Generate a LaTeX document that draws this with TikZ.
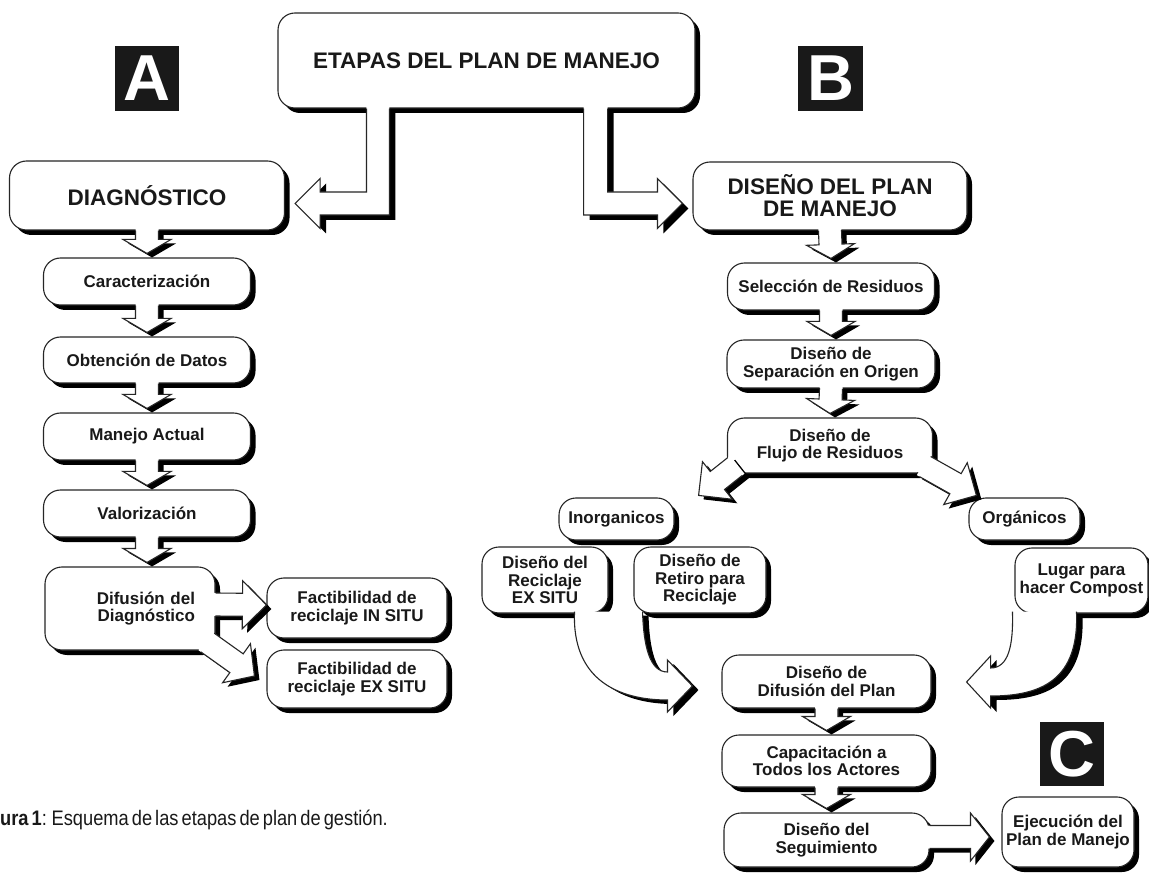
\documentclass[tikz,border=0pt]{standalone}
\usepackage{fontspec}
\setmainfont{Liberation Sans}
\newfontfamily\captfont[FakeStretch=0.87, WordSpace=0.6]{Liberation Sans}
\usetikzlibrary{calc,shadows}

% block arrow: [head length]{from}{tip}
\newcommand{\flowarr}[3][14]{%
  \path let \p1=($#3-#2$) in
    \pgfextra{\pgfmathsetmacro\arrang{atan2(\y1,\x1)}%
      \pgfmathsetmacro\arrlen{veclen(\x1,\y1)}%
      \xdef\arrang{\arrang}\xdef\arrlen{\arrlen}};
  \pgfmathsetmacro\arrbase{\arrlen-#1}%
  \begin{scope}[shift={#2}, shift={(5,4)}, rotate=\arrang]
    \fill[black] (-3,11.5) -- (\arrbase,11.5) -- (\arrbase,24) -- (\arrlen,0)
      -- (\arrbase,-24) -- (\arrbase,-11.5) -- (-3,-11.5) -- cycle;
  \end{scope}
  \begin{scope}[shift={#2}, rotate=\arrang]
    \fill[white] (-3,11.5) -- (\arrbase,11.5) -- (\arrbase,24) -- (\arrlen,0)
      -- (\arrbase,-24) -- (\arrbase,-11.5) -- (-3,-11.5) -- cycle;
    \draw[stageline] (0,11.5) -- (\arrbase,11.5) -- (\arrbase,24) -- (\arrlen,0)
      -- (\arrbase,-24) -- (\arrbase,-11.5) -- (0,-11.5);
  \end{scope}}

% elbow arrows out of the title box
\newcommand{\elbowL}[1]{(\x1,\y1+#1) -- (\x1,\y2+11.5pt) -- (\x2+25pt,\y2+11.5pt)
  -- (\x2+25pt,\y2+25pt) -- (\x2,\y2) -- (\x2+25pt,\y2-25pt) -- (\x2+25pt,\y2-11.5pt)
  -- (\x1+23pt,\y2-11.5pt) -- (\x1+23pt,\y1+#1)}
\newcommand{\elbowR}[1]{(\x1,\y1+#1) -- (\x1,\y2-11.5pt) -- (\x2-25pt,\y2-11.5pt)
  -- (\x2-25pt,\y2-25pt) -- (\x2,\y2) -- (\x2-25pt,\y2+25pt) -- (\x2-25pt,\y2+11.5pt)
  -- (\x1+24pt,\y2+11.5pt) -- (\x1+24pt,\y1+#1)}

% curved arrows into the plan column
\newcommand{\curveL}{(cls) .. controls +(-3,69) and +(-48,0) .. ($(clt)+(-25,14)$)
  -- ++(0,12) -- (clt) -- ++(-25,-26) -- ++(0,12)
  .. controls +(-18,0) and +(1,34) .. ($(cls)+(68,0)$)}
\newcommand{\curveR}{($(crs)+(64,0)$) .. controls +(3,69) and +(50,0) .. ($(crt)+(24,14)$)
  -- ++(0,12) -- (crt) -- ++(24,-26) -- ++(0,12)
  .. controls +(18,0) and +(1,34) .. (crs)}

\begin{document}
\begin{tikzpicture}[x=1pt, y=-1pt,
    stagebox/.style={draw=black!85, line width=1.1pt, fill=white, rounded corners=17pt,
      align=center, inner sep=3pt, text=black!90,
      drop shadow={shadow xshift=5pt, shadow yshift=-5pt, opacity=1, fill=black}},
    smalltxt/.style={font=\bfseries\fontsize{17}{17.5}\selectfont},
    bigtxt/.style={font=\bfseries\fontsize{22.5}{22}\selectfont},
    letterbox/.style={fill=black!90, text=white, inner sep=0pt, minimum width=64pt,
      minimum height=65pt, font=\bfseries\fontsize{65}{65}\selectfont},
    stageline/.style={draw=black!85, line width=1.1pt}]

  \fill[white] (0,0) rectangle (1149,874);
  \useasboundingbox (0,0) rectangle (1149,874);

  % title and letters
  \node[stagebox, bigtxt, minimum width=417pt, minimum height=95pt] (etapas) at (486.5,60.5) {ETAPAS DEL PLAN DE MANEJO};
  \node[letterbox] (letA) at (147,78.5) {A};
  \node[letterbox, minimum width=65pt] (letB) at (830.5,78.5) {B};
  \node[letterbox, minimum height=64pt] (letC) at (1072,754) {C};

  % A: diagnostico
  \node[stagebox, bigtxt, minimum width=275pt, minimum height=69pt] (diag) at (147,195.5) {DIAGNÓSTICO};
  \node[stagebox, smalltxt, minimum width=207pt, minimum height=47pt] (carac) at (147,281.5) {Caracterización};
  \node[stagebox, smalltxt, minimum width=207pt, minimum height=46pt] (obten) at (147,360) {Obtención de Datos};
  \node[stagebox, smalltxt, minimum width=207pt, minimum height=47pt] (manejo) at (147,436.5) {Manejo Actual};
  \node[stagebox, smalltxt, minimum width=207pt, minimum height=47pt] (valor) at (147,513.5) {Valorización};
  \node[stagebox, smalltxt, minimum width=170pt, minimum height=83pt, text width=130pt,
    align=right, inner xsep=20pt] (difus) at (130,608.5) {Difusión del\\Diagnóstico};
  \node[stagebox, smalltxt, minimum width=180pt, minimum height=60pt] (insitu) at (357,608) {Factibilidad de\\reciclaje IN SITU};
  \node[stagebox, smalltxt, minimum width=180pt, minimum height=58pt] (exsitu) at (357,679) {Factibilidad de\\reciclaje EX SITU};

  % B: diseno
  \node[stagebox, bigtxt, minimum width=274pt, minimum height=68pt] (disen) at (830,196) {DISEÑO DEL PLAN\\DE MANEJO};
  \node[stagebox, smalltxt, minimum width=207pt, minimum height=47pt] (selec) at (831,286.5) {Selección de Residuos};
  \node[stagebox, smalltxt, minimum width=208pt, minimum height=48pt] (separ) at (831,364) {Diseño de\\Separación en Origen};
  \node[stagebox, smalltxt, minimum width=205pt, minimum height=55pt] (flujo) at (830,445.5) {Diseño de\\Flujo de Residuos};
  \node[stagebox, smalltxt, minimum width=115pt, minimum height=42pt] (inorg) at (616.5,519) {Inorganicos};
  \node[stagebox, smalltxt, minimum width=111pt, minimum height=42pt] (orga) at (1024.5,519) {Orgánicos};
  \node[stagebox, smalltxt, minimum width=126pt, minimum height=66pt] (recex) at (545,580) {Diseño del\\Reciclaje\\EX SITU};
  \node[stagebox, smalltxt, minimum width=132pt, minimum height=66pt] (retiro) at (700,580) {Diseño de\\Retiro para\\Reciclaje};
  \node[stagebox, smalltxt, minimum width=133pt, minimum height=65pt] (lugar) at (1081.5,580.5) {Lugar para\\hacer Compost};
  \node[stagebox, smalltxt, minimum width=209pt, minimum height=53pt] (difplan) at (826.5,681.5) {Diseño de\\Difusión del Plan};
  \node[stagebox, smalltxt, minimum width=209pt, minimum height=52pt] (capac) at (826.5,761) {Capacitación a\\Todos los Actores};
  \node[stagebox, smalltxt, minimum width=205pt, minimum height=54pt] (segui) at (826.5,840) {Diseño del\\Seguimiento};

  % C: ejecucion
  \node[stagebox, smalltxt, minimum width=132pt, minimum height=70pt] (ejec) at (1068,832) {Ejecución del\\Plan de Manejo};

  \node[anchor=base west, inner sep=0pt, text=black!90,
    font=\captfont\fontsize{21}{21}\selectfont] (capt) at (0,825) {\textbf{ura 1}: Esquema de las etapas de plan de gestión.};

  % elbows from the title
  \coordinate (ls) at ($(etapas.south west)+(89,0)$);
  \coordinate (lt) at ($(diag.east)+(10,8)$);
  \coordinate (rs) at ($(etapas.south east)+(-112,0)$);
  \coordinate (rt) at ($(disen.west)+(-10,7.5)$);
  \fill[black, transform canvas={shift={(6pt,-5pt)}}] let \p1=(ls), \p2=(lt) in \elbowL{3pt} -- cycle;
  \fill[white] let \p1=(ls), \p2=(lt) in \elbowL{3pt} -- cycle;
  \draw[stageline] let \p1=(ls), \p2=(lt) in \elbowL{0pt};
  \fill[black, transform canvas={shift={(6pt,-5pt)}}] let \p1=(rs), \p2=(rt) in \elbowR{3pt} -- cycle;
  \fill[white] let \p1=(rs), \p2=(rt) in \elbowR{3pt} -- cycle;
  \draw[stageline] let \p1=(rs), \p2=(rt) in \elbowR{0pt};

  % column A
  \flowarr{(diag.south)}{($(carac.north)+(0,-4)$)}
  \flowarr{(carac.south)}{($(obten.north)+(0,-4)$)}
  \flowarr{(obten.south)}{($(manejo.north)+(0,-4)$)}
  \flowarr{(manejo.south)}{($(valor.north)+(0,-4)$)}
  \flowarr{(valor.south)}{($(valor.south |- difus.north)+(0,-4)$)}
  \flowarr[24]{($(difus.east)+(0,-4)$)}{($(insitu.west)+(0,-3)$)}
  \flowarr[22]{($(difus.south east)+(-8,-8)$)}{($(exsitu.west)+(-12,-3)$)}

  % column B
  \flowarr{(disen.south)}{($(selec.north)+(0,-4)$)}
  \flowarr{(selec.south)}{($(separ.north)+(0,-4)$)}
  \flowarr{(separ.south)}{($(flujo.north)+(0,-4)$)}
  \flowarr[24]{($(flujo.south west)+(8,-7)$)}{($(inorg.north east)+(24,-2)$)}
  \flowarr[24]{($(flujo.south east)+(-8,-7)$)}{($(orga.north west)+(8,-2)$)}
  \flowarr{(difplan.south)}{($(capac.north)+(0,-4)$)}
  \flowarr{(capac.south)}{($(segui.north)+(0,-4)$)}
  \flowarr[19]{($(segui.east)+(0,-3)$)}{($(segui.east -| ejec.west)+(-12,-3)$)}

  % curved arrows
  \coordinate (cls) at ($(recex.south east)+(-34,-2)$);
  \coordinate (clt) at ($(difplan.west)+(-29,4.5)$);
  \coordinate (crs) at ($(lugar.south west)+(-2,-2)$);
  \coordinate (crt) at ($(difplan.east)+(35,0.5)$);
  \fill[black, transform canvas={shift={(6pt,-4pt)}}] \curveL -- cycle;
  \fill[white] \curveL -- cycle;
  \draw[stageline] \curveL;
  \fill[black, transform canvas={shift={(6pt,-4pt)}}] \curveR -- cycle;
  \fill[white] \curveR -- cycle;
  \draw[stageline] \curveR;
\end{tikzpicture}
\end{document}
